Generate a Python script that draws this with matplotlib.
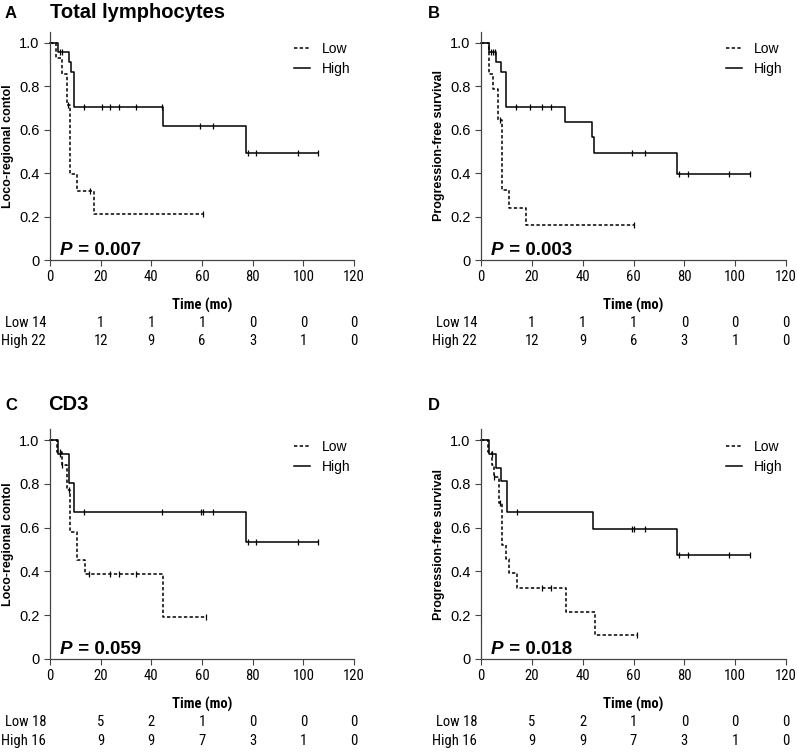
import os
import numpy as np
import matplotlib
matplotlib.use("Agg")
import matplotlib.pyplot as plt
from matplotlib import font_manager
from matplotlib.font_manager import FontProperties

# ---- data ----
x_ticks = [0, 20, 40, 60, 80, 100, 120]
y_ticks = [0, 0.2, 0.4, 0.6, 0.8, 1.0]
y_ticklabels = ["0", "0.2", "0.4", "0.6", "0.8", "1.0"]

# panel A: total lymphocytes, loco-regional control
a_low_t = [0, 2.4, 4.6, 6.6, 7.9, 10.5, 17.5, 60.3]
a_low_s = [1.0, 0.929, 0.857, 0.714, 0.397, 0.317, 0.212, 0.212]
a_low_cens = [7.2, 15.8, 60.3]
a_high_t = [0, 3.3, 7.5, 8.1, 9.6, 44.5, 77.4, 105.9]
a_high_s = [1.0, 0.955, 0.909, 0.864, 0.702, 0.615, 0.492, 0.492]
a_high_cens = [4.0, 4.6, 13.5, 20.4, 23.7, 27.2, 33.9, 44.1, 59.2, 64.5, 78.0, 81.3, 97.8, 105.9]

# panel B: total lymphocytes, progression-free survival
b_low_t = [0, 3.0, 4.9, 6.7, 8.3, 10.9, 17.7, 60.3]
b_low_s = [1.0, 0.857, 0.786, 0.643, 0.321, 0.241, 0.161, 0.161]
b_low_cens = [7.5, 60.3]
b_high_t = [0, 3.3, 6.0, 7.9, 10.0, 33.0, 43.5, 44.6, 77.3, 105.9]
b_high_s = [1.0, 0.955, 0.909, 0.864, 0.702, 0.634, 0.565, 0.494, 0.395, 0.395]
b_high_cens = [4.1, 4.8, 5.4, 13.7, 19.3, 24.1, 27.4, 59.5, 64.5, 78.0, 81.3, 97.7, 105.9]

# panel C: CD3, loco-regional control
c_low_t = [0, 2.6, 4.6, 6.8, 7.9, 10.5, 13.8, 44.5, 61.6]
c_low_s = [1.0, 0.944, 0.889, 0.773, 0.582, 0.453, 0.388, 0.194, 0.194]
c_low_cens = [3.8, 4.9, 7.4, 15.5, 23.7, 27.2, 33.9, 61.6]
c_high_t = [0, 3.1, 7.6, 9.6, 77.4, 105.9]
c_high_s = [1.0, 0.9375, 0.804, 0.670, 0.536, 0.536]
c_high_cens = [4.0, 13.4, 44.1, 59.6, 60.3, 64.2, 78.3, 81.3, 97.7, 105.9]

# panel D: CD3, progression-free survival
d_low_t = [0, 2.9, 4.2, 5.0, 7.2, 8.3, 10.0, 11.1, 14.0, 33.3, 44.7, 61.5]
d_low_s = [1.0, 0.944, 0.889, 0.833, 0.714, 0.521, 0.456, 0.391, 0.326, 0.217, 0.109, 0.109]
d_low_cens = [5.3, 7.5, 23.9, 27.4, 61.5]
d_high_t = [0, 3.3, 5.9, 8.0, 10.2, 43.9, 77.3, 105.9]
d_high_s = [1.0, 0.9375, 0.875, 0.8125, 0.670, 0.596, 0.477, 0.477]
d_high_cens = [4.4, 14.0, 59.5, 60.3, 64.5, 78.0, 81.3, 97.7, 105.9]

# numbers at risk (first value goes with the row label)
risk_times = [20, 40, 60, 80, 100, 120]
ab_low_risk = [14, 1, 1, 1, 0, 0, 0]
ab_high_risk = [22, 12, 9, 6, 3, 1, 0]
cd_low_risk = [18, 5, 2, 1, 0, 0, 0]
cd_high_risk = [16, 9, 9, 7, 3, 1, 0]

plt.rcParams["font.family"] = ["Liberation Sans", "DejaVu Sans"]


# look for a condensed face for the axis numbers, fall back to Liberation Sans
def find_narrow(bold):
    cands = []
    for f in font_manager.fontManager.ttflist:
        fn = os.path.basename(f.fname).lower()
        if not ("narrow" in fn or "condensed" in fn or "cond" in fn):
            continue
        if "italic" in fn or "oblique" in fn:
            continue
        is_bold = "bold" in fn and "semibold" not in fn
        if is_bold != bold:
            continue
        if "mono" in fn or "serif" in fn.replace("sans", ""):
            continue
        rank = 0 if "liberation" in fn else 1 if "arial" in fn else 2 if "roboto" in fn else 3
        cands.append((rank, f.fname))
    if cands:
        return FontProperties(fname=sorted(cands)[0][1])
    return None


NARROW = find_narrow(False)
NARROW_B = find_narrow(True)
NARROW_SIZE = 10.5
if NARROW is None:
    NARROW = FontProperties(family="Liberation Sans")
    NARROW_SIZE = 10
if NARROW_B is None:
    NARROW_B = FontProperties(family="Liberation Sans", weight="bold")


def nfont(size, bold=False):
    fp = (NARROW_B if bold else NARROW).copy()
    fp.set_size(size)
    return fp


fig = plt.figure(figsize=(7.97, 7.53), dpi=100)

AX_COL = "#444444"
DASH = (0, (2.2, 1.5))


def draw_curve(ax, t, s, cens, ls):
    t = np.asarray(t)
    s = np.asarray(s)
    ax.step(t, s, where="post", color="black", lw=1.1, linestyle=ls, clip_on=False)
    idx = np.searchsorted(t, cens, side="right") - 1
    ax.plot(cens, s[idx], linestyle="none", marker="|", markersize=5,
            markeredgewidth=0.9, color="black", clip_on=False)


def panel(rect, low, high, ylabel, pval, low_risk, high_risk):
    ax = fig.add_axes(rect)
    draw_curve(ax, *low, ls=DASH)
    draw_curve(ax, *high, ls="-")
    ax.set_xlim(0, 120)
    ax.set_ylim(0, 1.05)
    ax.set_xticks(x_ticks)
    ax.set_yticks(y_ticks)
    ax.set_yticklabels(y_ticklabels)
    for sp in ["top", "right"]:
        ax.spines[sp].set_visible(False)
    for sp in ["left", "bottom"]:
        ax.spines[sp].set_color(AX_COL)
        ax.spines[sp].set_linewidth(0.9)
    ax.tick_params(direction="out", length=4, width=0.8, color=AX_COL, labelsize=10.5)
    for lab in ax.get_xticklabels():
        lab.set_fontproperties(nfont(NARROW_SIZE))
    ax.set_ylabel(ylabel, fontsize=9, fontweight="bold", labelpad=4)
    ax.set_xlabel("Time (mo)", fontproperties=nfont(NARROW_SIZE, True), labelpad=10)

    leg_low, = ax.plot([], [], color="black", lw=1.1, linestyle=DASH)
    leg_high, = ax.plot([], [], color="black", lw=1.1)
    ax.legend([leg_low, leg_high], ["Low", "High"], loc="upper left",
              bbox_to_anchor=(0.78, 0.985), frameon=False, fontsize=10,
              handlelength=1.15, handletextpad=0.85, borderpad=0, labelspacing=0.45)

    ptxt = ax.text(4.0, 0.025, "P", fontsize=13.5, fontweight="bold",
                   fontstyle="italic", va="baseline")
    ax.annotate(" = " + pval, xy=(1, 0), xycoords=ptxt, va="bottom",
                fontsize=13.5, fontweight="bold")

    # numbers at risk
    for row, (name, vals) in enumerate([("Low", low_risk), ("High", high_risk)]):
        y = -0.29 - 0.083 * row
        ax.text(-1.5, y, f"{name} {vals[0]}", ha="right", va="center",
                fontproperties=nfont(NARROW_SIZE), clip_on=False)
        for tt, v in zip(risk_times, vals[1:]):
            ax.text(tt, y, str(v), ha="center", va="center",
                    fontproperties=nfont(NARROW_SIZE), clip_on=False)
    return ax


W, H = 797, 753


def rect(x0, x1, ybottom, ytop):
    return [x0 / W, (H - ybottom) / H, (x1 - x0) / W, (ybottom - ytop) / H]


panel(rect(50, 354, 260, 31.7), (a_low_t, a_low_s, a_low_cens),
      (a_high_t, a_high_s, a_high_cens), "Loco-regional contol", "0.007",
      ab_low_risk, ab_high_risk)
panel(rect(481, 786, 260, 31.7), (b_low_t, b_low_s, b_low_cens),
      (b_high_t, b_high_s, b_high_cens), "Progression-free survival", "0.003",
      ab_low_risk, ab_high_risk)
panel(rect(50, 354, 659, 429.3), (c_low_t, c_low_s, c_low_cens),
      (c_high_t, c_high_s, c_high_cens), "Loco-regional contol", "0.059",
      cd_low_risk, cd_high_risk)
panel(rect(481, 786, 659, 429.3), (d_low_t, d_low_s, d_low_cens),
      (d_high_t, d_high_s, d_high_cens), "Progression-free survival", "0.018",
      cd_low_risk, cd_high_risk)

# panel letters and titles
fig.text(5 / W, 1 - 14 / H, "A", fontsize=12, fontweight="bold", va="center")
fig.text(50 / W, 1 - 12 / H, "Total lymphocytes", fontsize=14.5, fontweight="bold", va="center")
fig.text(428 / W, 1 - 14 / H, "B", fontsize=12, fontweight="bold", va="center")
fig.text(5 / W, 1 - 405 / H, "C", fontsize=12, fontweight="bold", va="center")
fig.text(48 / W, 1 - 404 / H, "CD3", fontsize=14.5, fontweight="bold", va="center")
fig.text(428 / W, 1 - 405 / H, "D", fontsize=12, fontweight="bold", va="center")

fig.savefig("out.png", dpi=100)
